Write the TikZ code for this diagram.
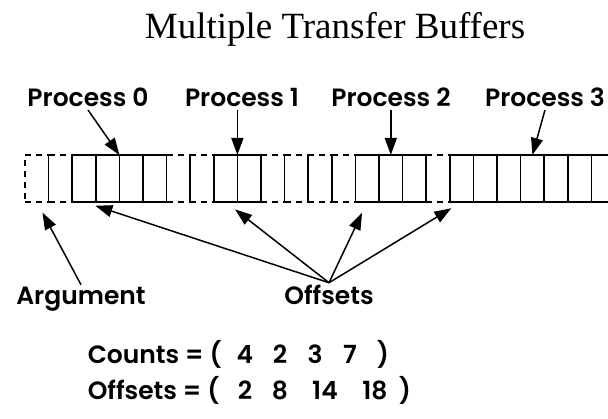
\documentclass[tikz,border=0pt]{standalone}
\usepackage{fontspec}
\setmainfont{Liberation Serif}
\newfontfamily\labelfont{Poppins SemiBold}
\usetikzlibrary{arrows.meta}

\begin{document}
\begin{tikzpicture}[x=1pt, y=-1pt, line width=1.5pt, >={Triangle[length=17pt,width=12pt]},
  cell/.style={draw, minimum width=23.6pt, minimum height=47pt, inner sep=0pt, outer sep=0pt},
  gap/.style={cell, dash pattern=on 6pt off 5pt},
  lbl/.style={font=\labelfont\fontsize{25}{30}\selectfont, anchor=base, inner sep=2pt}]
\useasboundingbox (0,0) rectangle (608,419);

\node[anchor=base, font=\fontsize{37}{42}\selectfont] (title) at (335,38.5) {Multiple Transfer Buffers};

% the buffer: unused slots dashed, received slots solid
\foreach \i in {0,1,6,7,10,11,12,13,17}
  \node[gap] (c\i) at ({25+23.6*(\i+0.5)},178.5) {};
\foreach \i in {2,3,4,5,8,9,14,15,16,18,19,20,21,22,23,24}
  \node[cell] (c\i) at ({25+23.6*(\i+0.5)},178.5) {};

\node[lbl] (p0) at (88,107) {Process 0};
\node[lbl] (p1) at (242,107) {Process 1};
\node[lbl] (p2) at (391,107) {Process 2};
\node[lbl] (p3) at (545,107) {Process 3};

\draw[->] (p0.south) -- (c3.north east);
\draw[->] (c8.north east |- p1.south) -- (c8.north east);
\draw[->] (c15.north |- p2.south) -- (c15.north);
\draw[->] (p3.south) -- (c21.north);

\node[lbl] (arg) at (81,305) {Argument};
\node[lbl] (offs) at (329,305) {Offsets};

\draw[->, shorten >=12pt] (arg.north) -- (c0.south);
\foreach \c in {2,8,14,18}
  \draw[->, shorten >=12pt] (offs.north) -- (c\c.south);

% the two argument vectors
\node[lbl, anchor=base west] (counts) at (85,364) {Counts = (};
\foreach \v/\x in {4/245,2/280,3/315,7/350}
  \node[lbl] (cnt\v) at (\x,364) {\v};
\node[lbl] (cntend) at (383,364) {)};
\node[lbl, anchor=base west] (offsets) at (85,400) {Offsets = (};
\foreach \v/\x in {2/245,8/280,14/325,18/375}
  \node[lbl] (off\v) at (\x,400) {\v};
\node[lbl] (offend) at (405,400) {)};
\end{tikzpicture}
\end{document}
